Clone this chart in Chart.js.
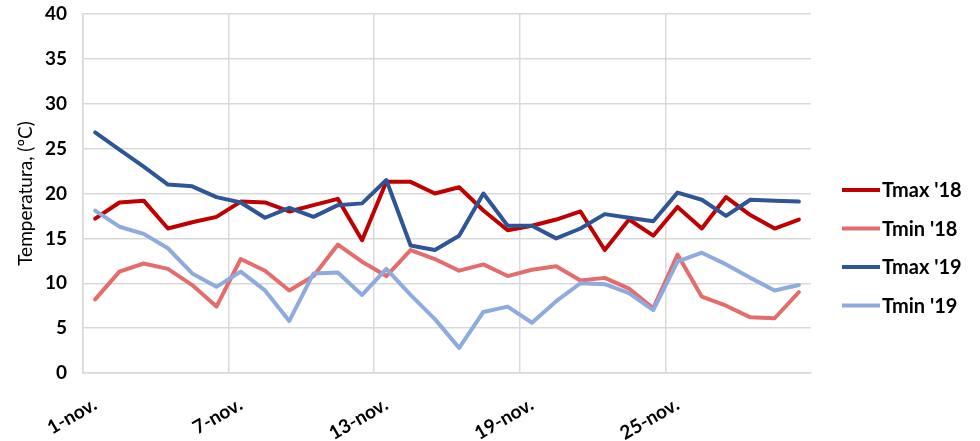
<!DOCTYPE html>
<html>
<head>
<meta charset="utf-8">
<script src="https://cdn.jsdelivr.net/npm/chart.js@4/dist/chart.umd.min.js"></script>
<style>
  html, body { margin: 0; padding: 0; background: #fff; }
  #wrap { width: 980px; height: 441px; }
</style>
</head>
<body>
<div id="wrap"><canvas id="c" width="980" height="441"></canvas></div>
<script>
// Daily temperatures for November, 2018 vs 2019 (ºC)
const days = ['1-nov.','2-nov.','3-nov.','4-nov.','5-nov.','6-nov.','7-nov.','8-nov.','9-nov.','10-nov.',
  '11-nov.','12-nov.','13-nov.','14-nov.','15-nov.','16-nov.','17-nov.','18-nov.','19-nov.','20-nov.',
  '21-nov.','22-nov.','23-nov.','24-nov.','25-nov.','26-nov.','27-nov.','28-nov.','29-nov.','30-nov.'];

const tmax18 = [17.2,19.0,19.2,16.1,16.8,17.4,19.1,19.0,18.0,18.7,19.4,14.8,21.3,21.3,20.0,20.7,18.1,15.9,16.4,17.1,18.0,13.7,17.1,15.3,18.5,16.1,19.6,17.6,16.1,17.1];
const tmin18 = [8.2,11.3,12.2,11.6,9.8,7.4,12.7,11.4,9.2,10.8,14.3,12.4,10.8,13.7,12.7,11.4,12.1,10.8,11.5,11.9,10.3,10.6,9.4,7.2,13.2,8.5,7.5,6.2,6.1,9.0];
const tmax19 = [26.8,24.9,23.0,21.0,20.8,19.6,19.0,17.3,18.4,17.4,18.7,18.9,21.5,14.2,13.7,15.3,20.0,16.4,16.4,15.0,16.1,17.7,17.3,16.9,20.1,19.3,17.5,19.3,19.2,19.1];
const tmin19 = [18.1,16.3,15.5,13.9,11.1,9.6,11.3,9.2,5.8,11.1,11.2,8.7,11.6,8.7,6.0,2.8,6.8,7.4,5.6,8.0,10.0,9.9,8.9,7.0,12.4,13.4,12.1,10.6,9.2,9.8];

const seriesNames = ["Tmax '18", "Tmin '18", "Tmax '19", "Tmin '19"];
const seriesColors = ['#C00000', '#E46C6C', '#2F5597', '#8FAADC'];
const seriesData = [tmax18, tmin18, tmax19, tmin19];

const FONT = 'Lato, "Open Sans", "Liberation Sans", sans-serif';
const GRID = '#D9D9D9';

// Legend drawn to the right of the plot, one line sample + label per series
const sideLegend = {
  id: 'sideLegend',
  afterDraw(chart) {
    const ctx = chart.ctx;
    const x0 = 842, x1 = 880, y0 = 190, step = 38.5;
    ctx.save();
    chart.data.datasets.forEach((ds, i) => {
      const y = y0 + i * step;
      ctx.strokeStyle = ds.borderColor;
      ctx.lineWidth = 4;
      ctx.beginPath();
      ctx.moveTo(x0, y);
      ctx.lineTo(x1, y);
      ctx.stroke();
      ctx.fillStyle = '#000';
      ctx.font = 'bold 20px ' + FONT;
      ctx.textAlign = 'left';
      ctx.textBaseline = 'middle';
      ctx.fillText(ds.label, x1 + 2, y + 1);
    });
    ctx.restore();
  }
};

new Chart(document.getElementById('c'), {
  type: 'line',
  data: {
    labels: days,
    datasets: seriesData.map((d, i) => ({
      label: seriesNames[i],
      data: d,
      borderColor: seriesColors[i],
      backgroundColor: seriesColors[i],
      borderWidth: 4,
      pointRadius: 0,
      tension: 0,
      borderJoinStyle: 'round',
      borderCapStyle: 'round',
      order: 4 - i
    }))
  },
  options: {
    responsive: false,
    animation: false,
    devicePixelRatio: 1,
    layout: { padding: { left: 14, right: 169, top: 14, bottom: 0 } },
    plugins: {
      legend: { display: false },
      tooltip: { enabled: false }
    },
    scales: {
      x: {
        offset: true,
        grid: {
          offset: true,
          drawTicks: false,
          lineWidth: 1.5,
          color: (c) => (c.index % 6 === 0) ? GRID : 'rgba(0,0,0,0)'
        },
        border: { color: GRID, width: 1.5 },
        ticks: {
          autoSkip: false,
          maxRotation: 30,
          minRotation: 30,
          padding: 20,
          color: '#000',
          font: { family: FONT, size: 19, weight: 'bold' },
          callback: function (v, i) { return i % 6 === 0 ? this.getLabelForValue(v) : ''; }
        },
        afterFit: (s) => { s.height = 441 - 373; }
      },
      y: {
        min: 0,
        max: 40,
        ticks: {
          stepSize: 5,
          padding: 16,
          color: '#000',
          font: { family: FONT, size: 19, weight: 'bold' }
        },
        grid: { color: GRID, lineWidth: 1.5, drawTicks: false },
        border: { color: GRID, width: 1.5 },
        title: {
          display: true,
          text: 'Temperatura, (ºC)',
          color: '#000',
          font: { family: FONT, size: 19 },
          padding: { top: 0, bottom: 4 }
        },
        afterFit: (s) => { s.width = 83 - 14; s.paddingTop = 0; s.paddingBottom = 0; }
      }
    }
  },
  plugins: [sideLegend]
});
</script>
</body>
</html>
